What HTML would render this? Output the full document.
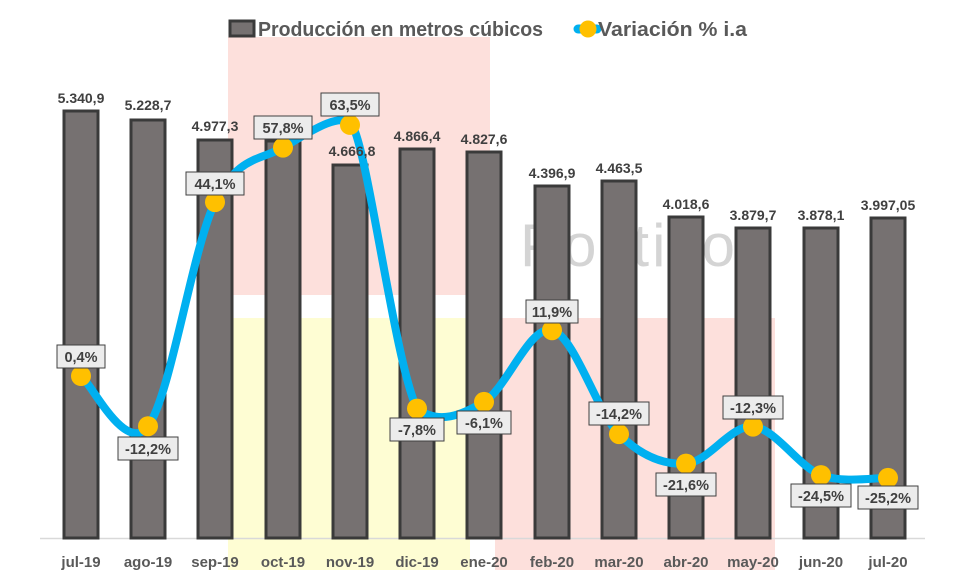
<!DOCTYPE html>
<html><head><meta charset="utf-8"><style>
body{margin:0;background:#fff}
svg{display:block;font-family:"Liberation Sans",Arial,sans-serif;font-weight:bold}
</style></head><body>
<svg width="960" height="570" viewBox="0 0 960 570" xmlns="http://www.w3.org/2000/svg">
<rect x="228" y="37" width="262" height="258" fill="#fde0dc"/>
<rect x="228" y="318" width="242" height="252" fill="#fefdd3"/>
<rect x="495" y="318" width="280" height="252" fill="#fde0dc"/>
<text x="520" y="266" font-size="60" fill="#d4d4d4" font-weight="normal" textLength="215" lengthAdjust="spacing">Politico</text>
<line x1="40" y1="538.5" x2="925" y2="538.5" stroke="#d9d9d9" stroke-width="1.5"/>
<g fill="#767171" stroke="#3a3a3a" stroke-width="3">
<rect x="64" y="111" width="34" height="427"/>
<rect x="131" y="120" width="34" height="418"/>
<rect x="198" y="140" width="34" height="398"/>
<rect x="266" y="141" width="34" height="397"/>
<rect x="333" y="165" width="34" height="373"/>
<rect x="400" y="149" width="34" height="389"/>
<rect x="467" y="152" width="34" height="386"/>
<rect x="535" y="186" width="34" height="352"/>
<rect x="602" y="181" width="34" height="357"/>
<rect x="669" y="217" width="34" height="321"/>
<rect x="736" y="228" width="34" height="310"/>
<rect x="804" y="228" width="34" height="310"/>
<rect x="871" y="218" width="34" height="320"/>
</g>
<g font-size="14" fill="#404040" text-anchor="middle">
<text x="81" y="103">5.340,9</text>
<text x="148" y="110">5.228,7</text>
<text x="215" y="131">4.977,3</text>
<text x="417" y="141">4.866,4</text>
<text x="484" y="144">4.827,6</text>
<text x="552" y="178">4.396,9</text>
<text x="619" y="173">4.463,5</text>
<text x="686" y="209">4.018,6</text>
<text x="753" y="220">3.879,7</text>
<text x="821" y="220">3.878,1</text>
<text x="888" y="210">3.997,05</text>
</g>
<path d="M81,376 C92.2,384.4 125.7,455.2 148,426.2 C170.3,397.2 192.5,248.5 215,202.1 C237.5,155.7 260.5,160.5 283,147.6 C305.5,134.7 340,110 352,124.9 C368,150 394.7,362.4 417,408.6 C439,425 461.5,415 484,401.9 C506.5,388.8 529.5,324.8 552,330.2 C574.5,335.6 596.7,411.9 619,434.1 C641.3,456.3 663.7,464.9 686,463.6 C708.3,462.4 730.5,424.7 753,426.6 C775.5,428.5 798.5,466.5 821,475.1 C843.5,483.6 876.8,477.4 888,477.9" fill="none" stroke="#00b0f0" stroke-width="8" stroke-linecap="round"/>
<text x="352" y="156" font-size="14" fill="#404040" text-anchor="middle">4.666,8</text>
<g fill="#ffc000">
<circle cx="81" cy="376" r="10"/><circle cx="148" cy="426.2" r="10"/><circle cx="215" cy="202.1" r="10"/><circle cx="283" cy="147.6" r="10"/><circle cx="350" cy="124.9" r="10"/><circle cx="417" cy="408.6" r="10"/><circle cx="484" cy="401.9" r="10"/><circle cx="552" cy="330.2" r="10"/><circle cx="619" cy="434.1" r="10"/><circle cx="686" cy="463.6" r="10"/><circle cx="753" cy="426.6" r="10"/><circle cx="821" cy="475.1" r="10"/><circle cx="888" cy="477.9" r="10"/>
</g>
<g fill="#ececec" stroke="#404040" stroke-width="1">
<rect x="57" y="345" width="48" height="23"/>
<rect x="118" y="437" width="60" height="23"/>
<rect x="186" y="172" width="58" height="23"/>
<rect x="254" y="116" width="58" height="23"/>
<rect x="321" y="93" width="58" height="23"/>
<rect x="390" y="418" width="54" height="23"/>
<rect x="457" y="411" width="54" height="23"/>
<rect x="526" y="300" width="52" height="23"/>
<rect x="589" y="402" width="60" height="23"/>
<rect x="656" y="473" width="60" height="23"/>
<rect x="723" y="396" width="60" height="23"/>
<rect x="791" y="484" width="60" height="23"/>
<rect x="858" y="486" width="60" height="23"/>
</g>
<g font-size="14.5" fill="#404040" text-anchor="middle">
<text x="81" y="362">0,4%</text>
<text x="148" y="454">-12,2%</text>
<text x="215" y="189">44,1%</text>
<text x="283" y="133">57,8%</text>
<text x="350" y="110">63,5%</text>
<text x="417" y="435">-7,8%</text>
<text x="484" y="428">-6,1%</text>
<text x="552" y="317">11,9%</text>
<text x="619" y="419">-14,2%</text>
<text x="686" y="490">-21,6%</text>
<text x="753" y="413">-12,3%</text>
<text x="821" y="501">-24,5%</text>
<text x="888" y="503">-25,2%</text>
</g>
<g font-size="15" fill="#595959" text-anchor="middle">
<text x="81" y="567">jul-19</text>
<text x="148" y="567">ago-19</text>
<text x="215" y="567">sep-19</text>
<text x="283" y="567">oct-19</text>
<text x="350" y="567">nov-19</text>
<text x="417" y="567">dic-19</text>
<text x="484" y="567">ene-20</text>
<text x="552" y="567">feb-20</text>
<text x="619" y="567">mar-20</text>
<text x="686" y="567">abr-20</text>
<text x="753" y="567">may-20</text>
<text x="821" y="567">jun-20</text>
<text x="888" y="567">jul-20</text>
</g>
<rect x="230" y="21" width="24" height="15" fill="#767171" stroke="#3a3a3a" stroke-width="3"/>
<text x="258" y="36" font-size="20" fill="#595959" textLength="285" lengthAdjust="spacingAndGlyphs">Producción en metros cúbicos</text>
<line x1="578" y1="29" x2="597" y2="29" stroke="#00b0f0" stroke-width="9" stroke-linecap="round"/>
<circle cx="588" cy="29" r="8.5" fill="#ffc000"/>
<text x="598" y="36" font-size="20" fill="#595959" textLength="149" lengthAdjust="spacingAndGlyphs">Variación % i.a</text>
</svg>
</body></html>
